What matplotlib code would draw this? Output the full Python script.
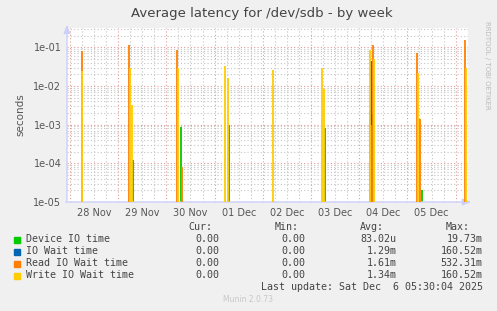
import matplotlib
matplotlib.use("Agg")
import matplotlib.pyplot as plt
import numpy as np

# x values are days since 28 Nov 00:00, y values in seconds
day_labels = ["28 Nov", "29 Nov", "30 Nov", "01 Dec", "02 Dec", "03 Dec", "04 Dec", "05 Dec"]

device_t = [1.317, 2.309, 3.290, 5.290, 6.232, 6.262, 7.303]
device_v = [1.2e-4, 8.7e-4, 1.0e-3, 8.0e-4, 2.4e-3, 1.9e-3, 2.0e-5]

iowait_t = [6.248]
iowait_v = [0.044]

read_t = [0.239, 1.225, 2.222, 2.330, 6.238, 6.293, 7.200, 7.268, 8.197]
read_v = [0.082, 0.113, 0.084, 7.8e-5, 1.0e-3, 0.117, 0.071, 0.00144, 0.15]

write_t = [0.255, 1.245, 1.286, 2.240, 3.222, 3.278, 4.218, 5.222, 5.276, 6.222, 6.310, 7.215, 8.212]
write_v = [0.024, 0.029, 0.0032, 0.029, 0.0335, 0.016, 0.026, 0.029, 0.0084, 0.087, 0.05, 0.022, 0.03]

legend_names = ["Device IO time", "IO Wait time", "Read IO Wait time", "Write IO Wait time"]
legend_colors = ["#00cc00", "#0066b3", "#ff8000", "#ffcc00"]
cur_vals = ["0.00", "0.00", "0.00", "0.00"]
min_vals = ["0.00", "0.00", "0.00", "0.00"]
avg_vals = ["83.02u", "1.29m", "1.61m", "1.34m"]
max_vals = ["19.73m", "160.52m", "532.31m", "160.52m"]

W, H = 497, 311
fig = plt.figure(figsize=(W / 100, H / 100), dpi=100, facecolor="#f0f0f0")
ax = fig.add_axes([67 / W, (H - 202) / H, 401 / W, 174 / H])
ax.set_facecolor("white")
ax.set_yscale("log")
ax.set_xlim(-0.062, 8.257)
ax.set_ylim(1e-5, 0.315)

for s in ax.spines.values():
    s.set_visible(False)

# grid: red at midnight / decades, grey every 6h / 2..9
red, grey = "#e39a9a", "#c4c4c4"
for d in np.arange(0, 8.5, 0.25):
    major = abs(d - round(d)) < 1e-6
    ax.axvline(d, color=red if major else grey, lw=0.8, ls=(0, (1, 2)), zorder=1)
for k in range(-5, 0):
    ax.axhline(10.0 ** k, color=red, lw=0.8, ls=(0, (1, 2)), zorder=1)
    for m in range(2, 10):
        ax.axhline(m * 10.0 ** k, color=grey, lw=0.8, ls=(0, (1, 2)), zorder=1)

lw = 1.3
ax.vlines(device_t, 1e-5, device_v, color=legend_colors[0], lw=lw, zorder=3)
ax.vlines(iowait_t, 1e-5, iowait_v, color=legend_colors[1], lw=lw, zorder=4)
ax.vlines(read_t, 1e-5, read_v, color=legend_colors[2], lw=lw, zorder=5)
ax.vlines(write_t, 1e-5, write_v, color=legend_colors[3], lw=lw, zorder=6)

ax.set_xticks(np.arange(len(day_labels)) + 0.5)
ax.set_xticklabels(day_labels)
ax.set_yticks([1e-5, 1e-4, 1e-3, 1e-2, 1e-1])
ax.set_yticklabels(["1e-05", "1e-04", "1e-03", "1e-02", "1e-01"])
ax.yaxis.set_minor_locator(matplotlib.ticker.NullLocator())
ax.tick_params(length=0, labelsize=7, colors="#555555", pad=4)
ax.set_ylabel("seconds", fontsize=7.5, color="#555555", labelpad=6)

# axis arrows
acol = "#ccd0f8"
ax.annotate("", xy=(0, 1.035), xytext=(0, -0.01), xycoords="axes fraction",
            arrowprops=dict(arrowstyle="-|>,head_length=0.5,head_width=0.2", color=acol, lw=1))
ax.annotate("", xy=(1.015, 0), xytext=(-0.01, 0), xycoords="axes fraction",
            arrowprops=dict(arrowstyle="-|>,head_length=0.5,head_width=0.2", color=acol, lw=1))

fig.text(262 / W, 1 - 14 / H, "Average latency for /dev/sdb - by week",
         ha="center", va="center", fontsize=9.5, color="#444444")
fig.text(487 / W, 1 - 65 / H, "RRDTOOL / TOBI OETIKER", rotation=270,
         ha="center", va="center", fontsize=5, color="#bbbbbb")

# legend
mono = dict(family="DejaVu Sans Mono", fontsize=7.2, color="#444444", va="center")
col_right = [219.7, 305.7, 396.7, 482.7]
head_right = [212.7, 299, 384, 470]
for x, h in zip(head_right, ["Cur:", "Min:", "Avg:", "Max:"]):
    fig.text(x / W, 1 - 227.5 / H, h, ha="right", **mono)
rows_y = [239.5, 251.5, 263.5, 275.5]
for i, name in enumerate(legend_names):
    y = 1 - rows_y[i] / H
    fig.patches.append(plt.Rectangle((14 / W, y - 3 / H), 6 / W, 6 / H,
                                     transform=fig.transFigure, color=legend_colors[i]))
    fig.text(26 / W, y, name, ha="left", **mono)
    for x, v in zip(col_right, [cur_vals[i], min_vals[i], avg_vals[i], max_vals[i]]):
        fig.text(x / W, y, v, ha="right", **mono)
fig.text(482.7 / W, 1 - 287.5 / H, "Last update: Sat Dec  6 05:30:04 2025", ha="right", **mono)
fig.text(248 / W, 1 - 300 / H, "Munin 2.0.73", ha="center", va="center",
         fontsize=5.5, color="#c8c8c8")

fig.savefig("out.png", dpi=100, facecolor=fig.get_facecolor())
